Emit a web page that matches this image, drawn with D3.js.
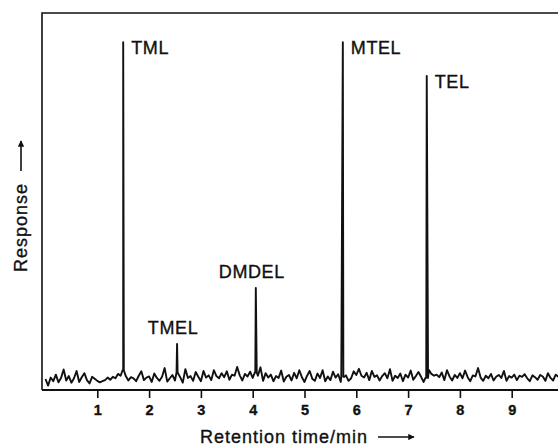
<!DOCTYPE html>
<html>
<head>
<meta charset="utf-8">
<script src="https://cdn.jsdelivr.net/npm/d3@7"></script>
<style>
  body { margin: 0; background: #fff; }
  text { font-family: Arial, "Liberation Sans", Helvetica, sans-serif; fill: #111; stroke: #111; stroke-width: 0.35px; }
</style>
</head>
<body>
<div id="chart"></div>
<script>
const width = 558;
const height = 447;

// peaks
const peakNames = ["TML", "TMEL", "DMDEL", "MTEL", "TEL"];
const peakTimes = [1.50, 2.54, 4.06, 5.74, 7.36];
const peakHeights = [92, 9.6, 24.9, 92, 82.8];
const peakHalfWidths = [0.012, 0.01, 0.018, 0.03, 0.025];

// baseline noise, one value every 0.05 min starting at 0
const noiseStep = 0.05;
const noise = [
  0.0,-1.8,0.4,-0.6,1.2,-0.9,0.3,2.6,-0.4,0.8,-1.0,0.2,2.2,-0.8,0.5,1.6,-0.3,-1.2,0.6,0.1,
  -0.5,-0.9,-0.6,-0.3,0.4,-0.2,0.6,0.2,1.4,0.9,2.4,0.8,-0.4,0.5,0.2,-0.6,0.9,2.1,-0.3,0.4,
  0.7,-0.8,1.5,0.3,-0.5,0.6,3.0,-0.7,0.2,1.1,-0.4,1.8,0.5,-1.0,2.7,0.3,0.8,-0.5,1.9,0.6,
  -0.6,2.2,0.4,1.0,-0.3,2.4,0.8,0.2,1.6,0.5,2.1,-0.2,1.2,0.9,3.3,1.0,-0.4,1.4,0.7,2.0,
  0.3,1.8,0.9,3.2,-0.5,1.6,0.4,1.2,-0.6,0.8,0.3,2.3,-0.7,0.6,1.1,-0.4,1.7,0.2,2.4,0.5,
  -0.8,0.9,2.2,0.1,-0.5,1.5,0.3,2.4,-0.6,0.7,-0.3,2.0,0.4,1.3,-0.8,0.6,1.0,-0.5,0.2,2.1,
  1.1,2.8,0.9,0.4,1.7,-0.3,2.2,0.6,1.0,-0.4,0.8,1.6,0.2,2.7,-0.5,0.9,0.3,1.5,-0.6,1.2,
  0.4,2.3,-0.2,0.8,1.9,0.6,-0.8,0.3,2.5,1.4,0.9,1.2,0.5,1.8,-0.3,2.4,0.7,-0.4,1.1,0.3,
  1.6,0.2,2.3,0.5,-0.6,1.0,0.7,3.0,0.4,-0.5,0.9,0.2,1.4,-0.4,0.6,1.1,0.3,2.2,-0.5,0.8,
  0.4,1.2,-0.3,0.9,0.6,1.3,0.2,-0.6,1.0,0.5,-0.2,1.1,0.7,-0.5,1.6,0.3,-0.4,1.2,0.6,0.9
];

const xTicks = [1, 2, 3, 4, 5, 6, 7, 8, 9];
const xTitle = "Retention time/min";
const yTitle = "Response";

const frame = {left: 42, top: 13, bottom: 390, right: 560};

const x = d3.scaleLinear().domain([0, 10]).range([45.5, 563.5]);
const y = d3.scaleLinear().domain([-3, 100]).range([frame.bottom, frame.top]);

const svg = d3.select("#chart")
  .append("svg")
  .attr("width", width)
  .attr("height", height);

svg.append("defs").append("clipPath")
  .attr("id", "plotClip")
  .append("rect")
  .attr("x", frame.left)
  .attr("y", frame.top)
  .attr("width", frame.right - frame.left)
  .attr("height", frame.bottom - frame.top);

// build trace: noise points plus a narrow triangle for each peak
let trace = noise.map((v, i) => [i * noiseStep, v]);
peakTimes.forEach((t, i) => {
  const w = peakHalfWidths[i];
  const base = noise[Math.round(t / noiseStep)];
  trace.push([t - w, base], [t, peakHeights[i]], [t + w, base]);
});
trace.sort((a, b) => a[0] - b[0]);

const line = d3.line()
  .x(d => x(d[0]))
  .y(d => y(d[1]));

svg.append("path")
  .datum(trace)
  .attr("clip-path", "url(#plotClip)")
  .attr("fill", "none")
  .attr("stroke", "#111")
  .attr("stroke-width", 1.9)
  .attr("stroke-linejoin", "round")
  .attr("d", line);

// frame (left and top) and the x axis
svg.append("path")
  .attr("d", `M${frame.left},${frame.bottom}V${frame.top}H${frame.right}`)
  .attr("fill", "none")
  .attr("stroke", "#111")
  .attr("stroke-width", 1.6);

const xAxis = d3.axisBottom(x)
  .tickValues(xTicks)
  .tickSize(8)
  .tickPadding(7)
  .tickFormat(d3.format("d"));

const gx = svg.append("g")
  .attr("transform", `translate(0,${frame.bottom})`)
  .call(xAxis);
gx.select(".domain").remove();
gx.append("line")
  .attr("x1", frame.left).attr("x2", frame.right)
  .attr("stroke", "#111").attr("stroke-width", 2);
gx.selectAll(".tick line").attr("stroke", "#111").attr("stroke-width", 1.6);
gx.selectAll(".tick text")
  .attr("fill", "#111")
  .style("font-size", "14.5px")
  .style("font-weight", "bold")
  .style("font-family", "Arial, 'Liberation Sans', sans-serif");

// peak labels: beside tall peaks, above small peaks
svg.selectAll(".peak-label")
  .data(peakNames)
  .enter().append("text")
  .attr("class", "peak-label")
  .attr("x", (d, i) => peakHeights[i] > 50 ? x(peakTimes[i]) + 8 : x(peakTimes[i]) - 4)
  .attr("y", (d, i) => peakHeights[i] > 50 ? y(peakHeights[i]) + 12 : y(peakHeights[i]) - 10)
  .attr("text-anchor", (d, i) => peakHeights[i] > 50 ? "start" : "middle")
  .style("font-size", "18px")
  .style("letter-spacing", "0.6px")
  .text(d => d);

// arrow marker
svg.select("defs").append("marker")
  .attr("id", "arrow")
  .attr("viewBox", "0 0 10 10")
  .attr("refX", 9).attr("refY", 5)
  .attr("markerWidth", 4).attr("markerHeight", 4)
  .attr("markerUnits", "strokeWidth")
  .attr("orient", "auto")
  .append("path")
  .attr("d", "M0,0L10,5L0,10Z")
  .attr("fill", "#111");

// x title with arrow
svg.append("text")
  .attr("x", 200)
  .attr("y", 443)
  .style("font-size", "18px")
  .style("letter-spacing", "1px")
  .text(xTitle);
svg.append("line")
  .attr("x1", 378).attr("x2", 414)
  .attr("y1", 437).attr("y2", 437)
  .attr("stroke", "#111").attr("stroke-width", 1.6)
  .attr("marker-end", "url(#arrow)");

// y title with arrow
svg.append("text")
  .attr("transform", "translate(27,272) rotate(-90)")
  .style("font-size", "18px")
  .style("letter-spacing", "1px")
  .text(yTitle);
svg.append("line")
  .attr("x1", 21).attr("x2", 21)
  .attr("y1", 171).attr("y2", 141)
  .attr("stroke", "#111").attr("stroke-width", 1.6)
  .attr("marker-end", "url(#arrow)");
</script>
</body>
</html>
